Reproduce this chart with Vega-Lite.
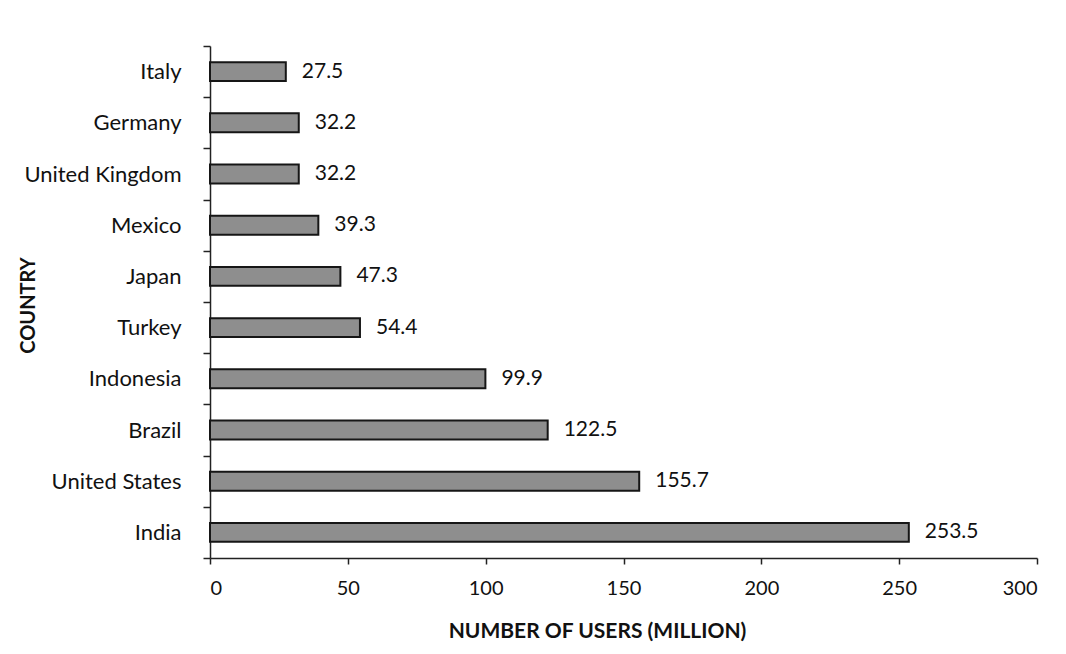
{
  "$schema": "https://vega.github.io/schema/vega-lite/v6.json",
  "autosize": {"type": "none"},
  "padding": {"left": 210, "top": 46, "right": 29, "bottom": 96},
  "width": 827,
  "height": 512,
  "background": "white",
  "config": {
    "font": "Lato",
    "view": {"stroke": null},
    "axis": {"labelFont": "Lato", "titleFont": "Lato", "labelColor": "#111", "titleColor": "#111", "domainColor": "#222", "tickColor": "#222"}
  },
  "data": {
    "values": [
      {"country": "Italy", "users": 27.5},
      {"country": "Germany", "users": 32.2},
      {"country": "United Kingdom", "users": 32.2},
      {"country": "Mexico", "users": 39.3},
      {"country": "Japan", "users": 47.3},
      {"country": "Turkey", "users": 54.4},
      {"country": "Indonesia", "users": 99.9},
      {"country": "Brazil", "users": 122.5},
      {"country": "United States", "users": 155.7},
      {"country": "India", "users": 253.5}
    ]
  },
  "encoding": {
    "y": {
      "field": "country", "type": "nominal", "sort": null,
      "scale": {"paddingInner": 0, "paddingOuter": 0},
      "axis": {
        "title": "COUNTRY", "titleFontSize": 20, "titleFontWeight": "bold",
        "titleX": -182, "titleY": 259, "titleAngle": -90, "titleBaseline": "middle", "titleAlign": "center",
        "labelFontSize": 22, "labelPadding": 22, "tickBand": "extent", "tickSize": 7,
        "domainWidth": 1.5, "tickWidth": 1.5
      }
    },
    "x": {
      "field": "users", "type": "quantitative",
      "scale": {"domain": [0, 300], "nice": false},
      "axis": {
        "title": "NUMBER OF USERS (MILLION)", "titleFontSize": 21, "titleFontWeight": "bold",
        "titlePadding": 22, "titleX": 387, "labelFontSize": 20, "labelPadding": 14,
        "values": [0, 50, 100, 150, 200, 250, 300], "tickSize": 6, "grid": false,
        "domainWidth": 1.5, "tickWidth": 1.5
      }
    }
  },
  "layer": [
    {"mark": {"type": "bar", "height": {"band": 0.37}, "fill": "#8e8e8e", "stroke": "#161616", "strokeWidth": 2}},
    {"mark": {"type": "text", "align": "left", "dx": 16, "fontSize": 21, "color": "#111"}, "encoding": {"text": {"field": "users", "type": "quantitative", "format": ".1f"}}}
  ]
}
